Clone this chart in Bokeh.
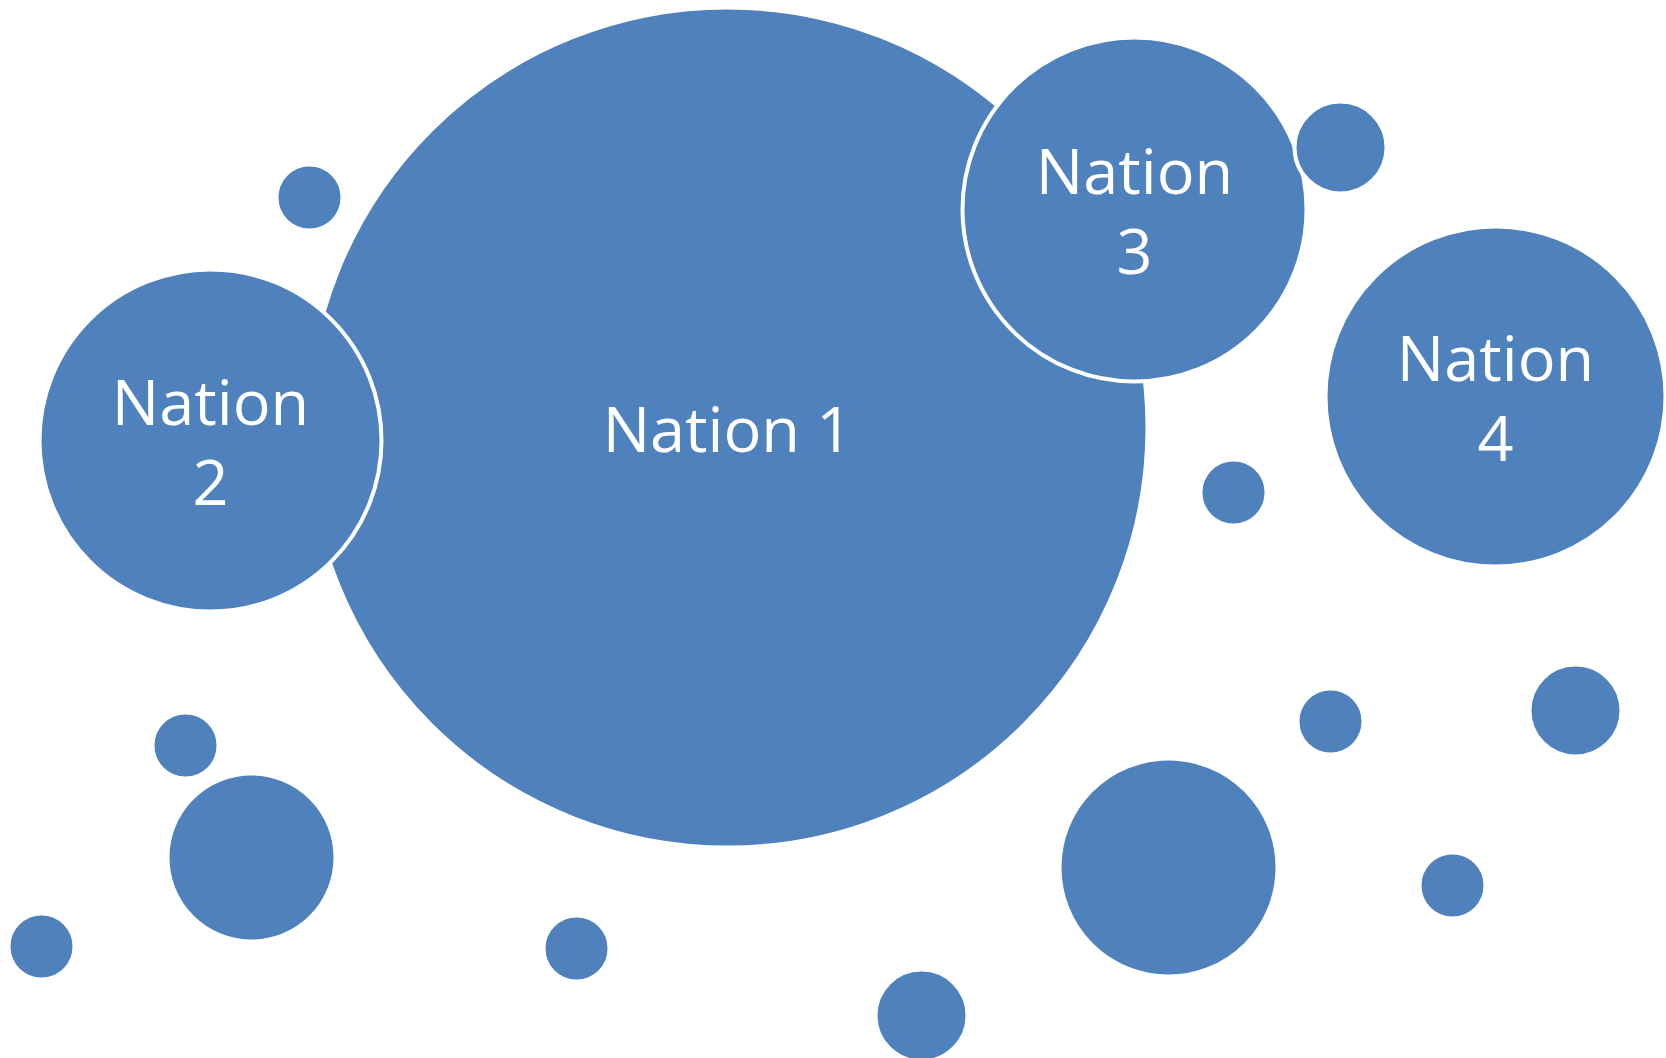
from bokeh.plotting import figure
from bokeh.models import ColumnDataSource, Range1d
from bokeh.core.properties import value
from bokeh.embed import file_html
from bokeh.resources import INLINE

# Bubble data (drawing order: Nation 1 at the back)
labels = ["Nation 1", "Nation\n2", "Nation\n3", "", "Nation\n4",
          "", "", "", "", "", "", "", "", "", "", ""]
x_vals = [727, 210, 1134, 1340, 1495,
          309, 1233, 185, 251, 41, 576, 921, 1168, 1330, 1575, 1452]
y_vals = [427, 440, 209, 147, 396,
          197, 492, 745, 857, 946, 948, 1015, 867, 721, 710, 885]
radii = [420, 171, 172, 46, 170,
         33, 33, 33, 84, 33, 33, 46, 109, 33, 46, 33]

BLUE = "#4F81BD"

src = ColumnDataSource(dict(x=x_vals, y=y_vals, r=radii, label=labels))

p = figure(width=1666, height=1058, output_backend="svg", toolbar_location=None,
           x_range=Range1d(0, 1666), y_range=Range1d(1058, 0),
           min_border=0, background_fill_color="white", border_fill_color="white")
p.axis.visible = False
p.grid.visible = False
p.outline_line_color = None

p.circle(x="x", y="y", radius="r", source=src, fill_color=BLUE,
         line_color="white", line_width=4)

p.text(x="x", y="y", text="label", source=src, text_color="white",
       text_font=value("Open Sans"), text_font_size="63px",
       text_align="center", text_baseline="middle", text_line_height=0.93)

open("out.html", "w").write(file_html(p, INLINE))
